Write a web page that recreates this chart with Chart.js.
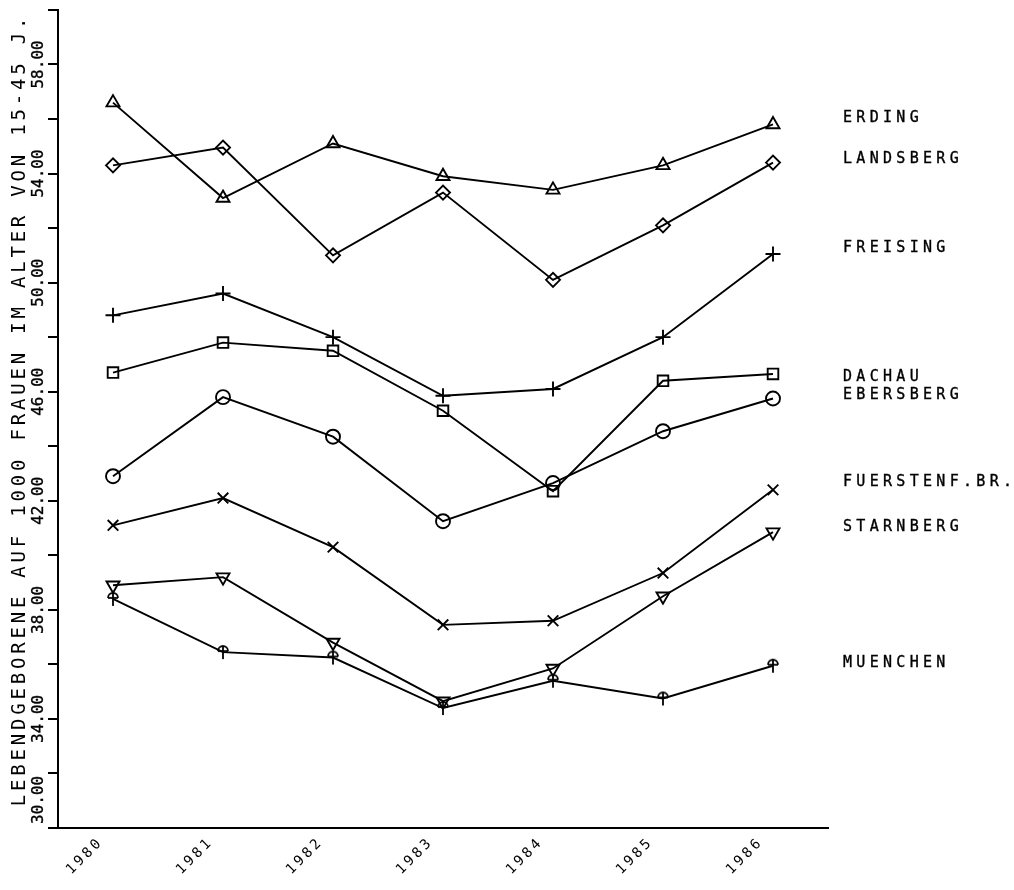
<!DOCTYPE html>
<html><head><meta charset="utf-8">
<script src="https://cdn.jsdelivr.net/npm/chart.js@4/dist/chart.umd.min.js"></script>
<style>html,body{margin:0;padding:0;background:#fff}#wrap{width:1014px;height:890px}</style>
</head><body><div id="wrap"><canvas id="c" width="1014" height="890"></canvas></div>
<script>
const years = ['1980','1981','1982','1983','1984','1985','1986'];
const erding     = [56.6, 53.1, 55.1, 53.9, 53.4, 54.3, 55.8];
const landsberg  = [54.3, 54.95, 51.0, 53.3, 50.1, 52.1, 54.4];
const freising   = [48.8, 49.6, 48.0, 45.85, 46.1, 48.0, 51.05];
const dachau     = [46.7, 47.8, 47.5, 45.3, 42.35, 46.4, 46.65];
const ebersberg  = [42.9, 45.8, 44.35, 41.25, 42.65, 44.55, 45.75];
const fuerstenf  = [41.1, 42.1, 40.3, 37.45, 37.6, 39.35, 42.4];
const starnberg  = [38.9, 39.2, 36.8, 34.65, 35.85, 38.5, 40.85];
const muenchen   = [38.4, 36.45, 36.25, 34.4, 35.4, 34.75, 35.95];
const seriesNames = ['ERDING','LANDSBERG','FREISING','DACHAU','EBERSBERG','FUERSTENF.BR.','STARNBERG','MUENCHEN'];
const labelValues = [56.05, 54.52, 51.27, 46.54, 45.88, 42.68, 41.04, 36.05];
const yTickValues = [30, 34, 38, 42, 46, 50, 54, 58];
const yTitle = 'LEBENDGEBORENE AUF 1000 FRAUEN IM ALTER VON 15-45 J.';

// custom marker for MUENCHEN
function makeArrowMarker(){
  const c = document.createElement('canvas'); c.width = 16; c.height = 18;
  const g = c.getContext('2d');
  g.strokeStyle = '#000'; g.lineWidth = 1.8;
  g.beginPath(); g.arc(8, 8, 5, Math.PI, 2*Math.PI); g.stroke();
  g.beginPath(); g.moveTo(3, 8); g.lineTo(13, 8); g.stroke();
  g.beginPath(); g.moveTo(8, 2.5); g.lineTo(8, 16); g.stroke();
  return c;
}
const arrowMarker = makeArrowMarker();

const allValues = [erding, landsberg, freising, dachau, ebersberg, fuerstenf, starnberg, muenchen];
const styles = ['triangle','rectRot','cross','rect','circle','crossRot','triangle', arrowMarker];
const rotations = [0,0,0,0,0,0,180,0];
const radii = [7.5,7,7.5,7.5,7,7.5,7.5,8];

const datasets = allValues.map((vals, i) => ({
  label: seriesNames[i],
  data: vals,
  borderColor: '#000',
  backgroundColor: 'rgba(0,0,0,0)',
  borderWidth: 1.9,
  pointStyle: styles[i],
  pointRotation: rotations[i],
  pointRadius: radii[i],
  pointBorderWidth: 1.9,
  pointBorderColor: '#000',
  pointBackgroundColor: 'rgba(0,0,0,0)',
  tension: 0,
  fill: false
}));

function heavyText(ctx, txt, x, y){
  ctx.fillText(txt, x, y);
  ctx.strokeText(txt, x, y);
}

const textPlugin = {
  id: 'texts',
  beforeDraw(chart){ chart.ctx.letterSpacing = '3px'; },
  beforeDatasetsDraw(chart){ chart.ctx.letterSpacing = '0px'; },
  afterDraw(chart){
    const ctx = chart.ctx, ys = chart.scales.y, area = chart.chartArea;
    ctx.save();
    ctx.fillStyle = '#000';
    ctx.strokeStyle = '#000';
    ctx.lineWidth = 0.35;
    // y tick labels (rotated)
    ctx.font = '16px "DejaVu Sans Mono"';
    ctx.letterSpacing = '0px';
    ctx.textAlign = 'center'; ctx.textBaseline = 'middle';
    yTickValues.forEach(v => {
      let py = ys.getPixelForValue(v);
      const txt = v.toFixed(2);
      const w = ctx.measureText(txt).width;
      if (py + w/2 > area.bottom - 4) py = area.bottom - 4 - w/2;
      ctx.save(); ctx.translate(39, py); ctx.rotate(-Math.PI/2); heavyText(ctx, txt, 0, 0); ctx.restore();
    });
    // y axis title
    ctx.font = '19px "DejaVu Sans Mono"';
    ctx.letterSpacing = '3.8px';
    ctx.save(); ctx.translate(20, 410); ctx.rotate(-Math.PI/2); ctx.fillText(yTitle, 0, 0); ctx.restore();
    // series labels
    ctx.font = '15px "DejaVu Sans Mono"';
    ctx.letterSpacing = '4.3px';
    ctx.textAlign = 'left';
    seriesNames.forEach((n, i) => {
      heavyText(ctx, n, area.right + 15, ys.getPixelForValue(labelValues[i]));
    });
    ctx.restore();
  }
};

new Chart(document.getElementById('c'), {
  type: 'line',
  data: { labels: years, datasets },
  plugins: [textPlugin],
  options: {
    responsive: false,
    animation: false,
    layout: { padding: { top: 5, right: 186, left: 0, bottom: 0 } },
    plugins: { legend: { display: false }, tooltip: { enabled: false } },
    scales: {
      x: {
        type: 'category', offset: true,
        grid: { display: false, drawTicks: false },
        border: { display: true, color: '#000', width: 2 },
        ticks: { minRotation: 45, maxRotation: 45, autoSkip: false, color: '#000',
                 font: { family: 'DejaVu Sans Mono', size: 14 }, labelOffset: -12, padding: 6 },
        afterFit(s){ s.height = 62; }
      },
      y: {
        min: 30, max: 60,
        ticks: { stepSize: 2, display: false },
        grid: { drawOnChartArea: false, drawTicks: true, tickLength: 10, color: '#000', lineWidth: 2 },
        border: { display: true, color: '#000', width: 2 },
        afterFit(s){ s.width = 58; }
      }
    }
  }
});
</script></body></html>
